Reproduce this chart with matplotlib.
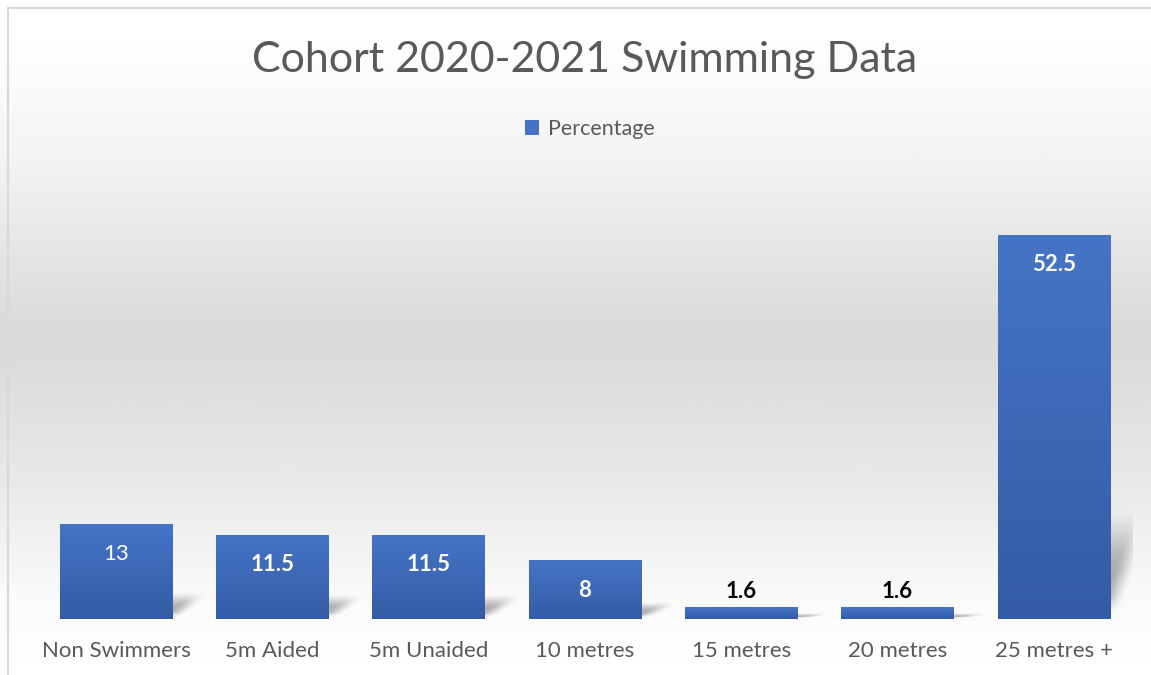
import numpy as np
import matplotlib.pyplot as plt
from matplotlib.lines import Line2D
from matplotlib.colors import LinearSegmentedColormap

categories = ['Non Swimmers', '5m Aided', '5m Unaided', '10 metres',
              '15 metres', '20 metres', '25 metres +']
percentage = [13, 11.5, 11.5, 8, 1.6, 1.6, 52.5]
label_text = ['13', '11.5', '11.5', '8', '1.6', '1.6', '52.5']
label_bold = [False, True, True, True, True, True, True]

plt.rcParams['font.family'] = ['Lato', 'DejaVu Sans']
grey = '#595959'

fig = plt.figure(figsize=(11.51, 6.75), dpi=100)

# background gradient (white -> grey -> white)
bg = fig.add_axes([0, 0, 1, 1], zorder=-10)
ypix = np.linspace(0, 675, 300)
shade = np.interp(ypix, [0, 40, 150, 320, 360, 480, 600, 675],
                  [255, 254, 244, 219, 219, 232, 250, 255]) / 255
bg.imshow(np.repeat(shade[:, None], 2, axis=1), cmap='gray', vmin=0, vmax=1,
          aspect='auto', extent=[0, 1, 0, 1], origin='upper')
bg.set_xlim(0, 1)
bg.set_ylim(0, 1)
bg.axis('off')

# chart border (top and left visible)
fig.add_artist(Line2D([8 / 1151, 8 / 1151], [0, 1 - 8 / 675], transform=fig.transFigure,
                      color='#d9d9d9', lw=1.5))
fig.add_artist(Line2D([8 / 1151, 1], [1 - 8 / 675, 1 - 8 / 675], transform=fig.transFigure,
                      color='#d9d9d9', lw=1.5))

ax = fig.add_axes([38 / 1151, 56 / 675, 1094 / 1151, 439 / 675])
ax.patch.set_alpha(0)
x = np.arange(len(categories))
bars = ax.bar(x, percentage, width=0.72, color='#4472C4', zorder=3,
              label='Percentage')
ax.set_xlim(-0.5, len(categories) - 0.5)
ax.set_ylim(0, 60)


def smooth(t):
    t = np.clip(t, 0, 1)
    return t * t * (3 - 2 * t)


# gradient fill + soft perspective shadow for each bar
grad = np.linspace(0, 1, 100)[:, None]
bar_cmap = LinearSegmentedColormap.from_list('barg', ['#4574C6', '#345CA6'])
for p in bars:
    xl, w, h = p.get_x(), p.get_width(), p.get_height()
    xr = xl + w
    im = ax.imshow(grad, cmap=bar_cmap, aspect='auto', extent=[xl, xr, 0, h],
                   origin='upper', zorder=3.5)
    im.set_clip_path(p)

    dx, s = 0.23, 0.3
    sh = max(s * h, 0.8)
    x0, x1 = xr - 0.2, xr + dx + 0.15
    y0, y1 = 0, sh * 1.15
    X, Y = np.meshgrid(np.linspace(x0, x1, 120), np.linspace(y1, y0, 120))
    v = np.clip(Y / sh, 0, 1)
    sr = smooth(((xr + dx * v) - X) / 0.14 + 0.4)
    st = smooth((sh - Y) / (0.6 * sh))
    sb = smooth((Y - 0.15) / (0.2 * sh))
    a = 0.3 * sr * st * sb
    rgba = np.zeros(X.shape + (4,))
    rgba[..., 3] = a
    ax.imshow(rgba, extent=[x0, x1, y0, y1], aspect='auto', origin='upper',
              zorder=2, interpolation='bilinear')

for xi, v, t, b in zip(x, percentage, label_text, label_bold):
    if v < 5:
        ax.annotate(t, (xi, v), xytext=(0, 11.5), textcoords='offset points',
                    ha='center', va='center', fontsize=16, fontweight='bold',
                    color='black', zorder=5)
    else:
        ax.annotate(t, (xi, v), xytext=(0, -21.6), textcoords='offset points',
                    ha='center', va='center', fontsize=16,
                    fontweight='bold' if b else 'normal', color='white', zorder=5)

ax.set_xlim(-0.5, len(categories) - 0.5)
ax.set_ylim(0, 60)
ax.set_xticks(x)
ax.set_xticklabels(categories, fontsize=16, color=grey)
ax.tick_params(axis='x', length=0, pad=16)
ax.set_yticks([])
for sp in ax.spines.values():
    sp.set_visible(False)

fig.text(585 / 1151, 1 - 60 / 675, 'Cohort 2020-2021 Swimming Data', ha='center',
         va='center', fontsize=31, color=grey)
leg = fig.legend(handles=[bars], labels=['Percentage'], loc='center',
                 bbox_to_anchor=(590 / 1151, 1 - 129 / 675), frameon=False,
                 fontsize=15.5, handlelength=0.65, handleheight=0.65, handletextpad=0.4,
                 labelcolor=grey)

fig.savefig('out.png', dpi=100)
